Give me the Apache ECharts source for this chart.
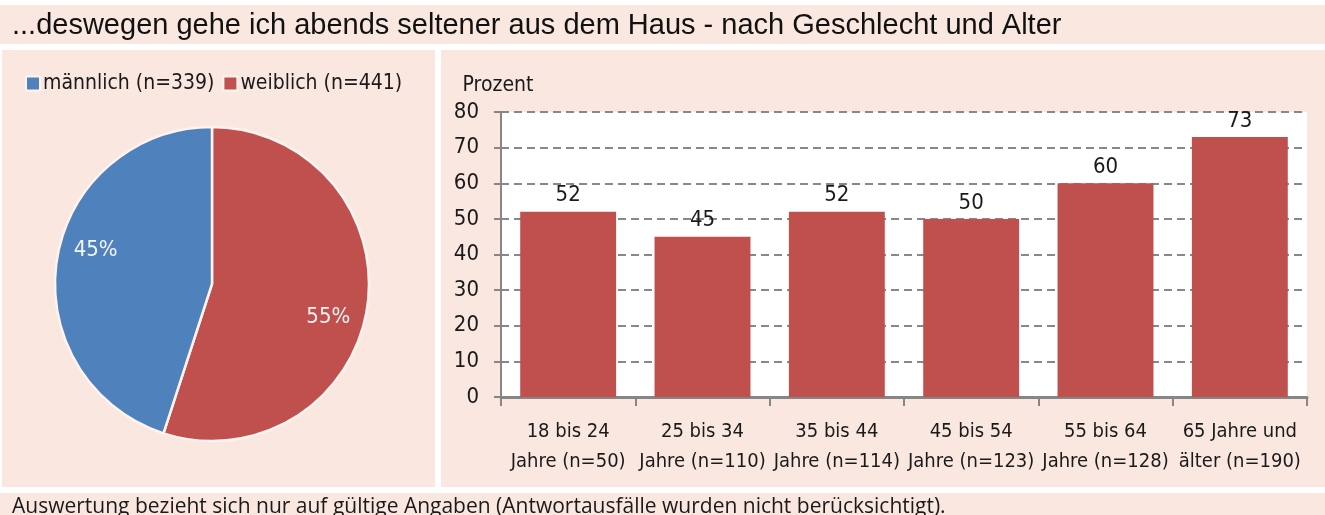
<!DOCTYPE html>
<html><head><meta charset="utf-8">
<script src="https://cdn.jsdelivr.net/npm/echarts@6/dist/echarts.min.js"></script>
<style>html,body{margin:0;padding:0;background:#fff}#c{width:1325px;height:515px}</style>
</head><body><div id="c"></div>
<script>
const titleText = '...deswegen gehe ich abends seltener aus dem Haus - nach Geschlecht und Alter';
const footerText = 'Auswertung bezieht sich nur auf gültige Angaben (Antwortausfälle wurden nicht berücksichtigt).';
const pieNames = ['männlich (n=339)', 'weiblich (n=441)'];
const pieValues = [45, 55];
const ageCategories = ['18 bis 24\nJahre (n=50)', '25 bis 34\nJahre (n=110)', '35 bis 44\nJahre (n=114)', '45 bis 54\nJahre (n=123)', '55 bis 64\nJahre (n=128)', '65 Jahre und\nälter (n=190)'];
const ageValues = [52, 45, 52, 50, 60, 73];
const yTicks = [0, 10, 20, 30, 40, 50, 60, 70, 80];

const PINK = '#F9E7E0';
const BLUE = '#4F81BD';
const RED = '#C0504D';
const FONT = "'DejaVu Sans Condensed', 'Liberation Sans Narrow', sans-serif";
const TXT = '#1a1a1a';

const pieData = [
  {name: pieNames[1], value: pieValues[1], itemStyle: {color: RED}},
  {name: pieNames[0], value: pieValues[0], itemStyle: {color: BLUE}}
];

const chart = echarts.init(document.getElementById('c'), null, {renderer: 'canvas'});
chart.setOption({
  backgroundColor: '#ffffff',
  animation: false,
  textStyle: {fontFamily: FONT},
  graphic: [
    {type: 'rect', z: -10, shape: {x: 0, y: 5, width: 1325, height: 39}, style: {fill: PINK}},
    {type: 'rect', z: -10, shape: {x: 2, y: 50, width: 433, height: 437}, style: {fill: PINK}},
    {type: 'rect', z: -10, shape: {x: 441, y: 50, width: 884, height: 437}, style: {fill: PINK}},
    {type: 'rect', z: -10, shape: {x: 0, y: 493, width: 1325, height: 22}, style: {fill: PINK}},
    {type: 'text', left: 12, top: 11, style: {text: titleText, font: "29px 'Liberation Sans', sans-serif", fill: '#111'}},
    {type: 'text', left: 12, top: 497, style: {text: footerText, font: "21px 'Open Sans', sans-serif", fill: TXT}}
  ],
  legend: {
    data: pieNames,
    left: 20, top: 68,
    itemWidth: 14, itemHeight: 14, itemGap: 8,
    icon: 'rect',
    textStyle: {fontSize: 21, color: TXT, fontFamily: FONT, padding: [0, 0, 0, -2]}
  },
  grid: {left: 501, right: 18, top: 112, bottom: 118, show: true, backgroundColor: '#ffffff', borderWidth: 0},
  xAxis: {
    type: 'category', data: ageCategories,
    axisLine: {lineStyle: {color: '#868686', width: 3}},
    axisTick: {show: true, length: 9, lineStyle: {color: '#868686', width: 2}},
    axisLabel: {fontSize: 20, lineHeight: 30, color: TXT, margin: 20, interval: 0, fontFamily: FONT}
  },
  yAxis: {
    type: 'value', min: yTicks[0], max: yTicks[yTicks.length - 1], interval: 10,
    name: 'Prozent', nameLocation: 'end', nameGap: 16,
    nameTextStyle: {fontSize: 21, color: TXT, fontFamily: FONT, padding: [0, 6, 0, 0]},
    axisLine: {show: true, lineStyle: {color: '#868686', width: 2}},
    axisTick: {show: true, length: 7, lineStyle: {color: '#868686', width: 2}},
    axisLabel: {fontSize: 22, color: TXT, margin: 22, fontFamily: FONT},
    splitLine: {lineStyle: {color: '#888888', width: 2, type: [8, 5]}}
  },
  series: [
    {
      type: 'bar', data: ageValues, barCategoryGap: '28.6%',
      itemStyle: {color: RED},
      label: {show: true, position: 'top', distance: 5, fontSize: 22, color: TXT, fontFamily: FONT}
    },
    {
      type: 'pie', center: [212, 284], radius: 157, startAngle: 90, clockwise: true,
      data: pieData,
      itemStyle: {borderColor: '#FDF3EF', borderWidth: 2.5},
      label: {show: false}, labelLine: {show: false}
    },
    {
      type: 'pie', center: [212, 284], radius: [79, 157], startAngle: 83, clockwise: true,
      silent: true, legendHoverLink: false,
      data: pieData.map(d => ({name: d.name, value: d.value, itemStyle: {color: 'rgba(0,0,0,0)'}})),
      itemStyle: {borderWidth: 0},
      label: {show: true, position: 'inside', formatter: '{c}%', fontSize: 22, color: '#F4F4F4', fontFamily: FONT},
      labelLine: {show: false}
    }
  ]
});
</script></body></html>
